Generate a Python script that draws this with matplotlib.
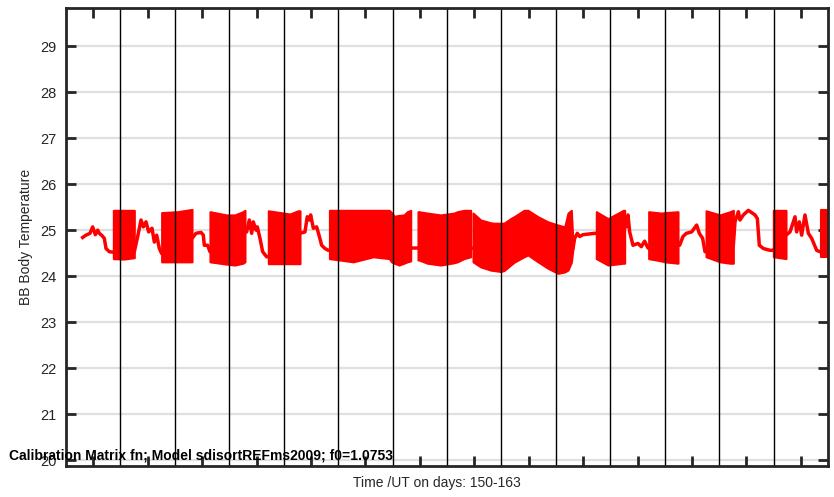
import numpy as np
import matplotlib
matplotlib.use('Agg')
import matplotlib.pyplot as plt

plt.rcParams['font.family'] = ['Liberation Sans', 'DejaVu Sans']

# quiet stretches of the trace (day, temperature)
trace_day = [150.306, 150.367, 150.441, 150.490, 150.539, 150.582, 150.612, 150.661, 150.704, 150.735, 150.796, 150.870,
             151.255, 151.317, 151.378, 151.421, 151.470, 151.519, 151.580, 151.623, 151.666, 151.715, 151.757,
             152.315, 152.388, 152.480, 152.523, 152.541, 152.603, 152.645,
             153.288, 153.319, 153.368, 153.411, 153.441, 153.490, 153.515, 153.564, 153.613, 153.686, 153.717,
             154.299, 154.390, 154.433, 154.470, 154.495, 154.544, 154.605, 154.648, 154.697, 154.758, 154.819, 154.840,
             156.333, 156.350, 156.455, 156.467,
             159.284, 159.315, 159.345, 159.394, 159.437, 159.498, 159.713, 159.743,
             160.264, 160.294, 160.325, 160.356, 160.417, 160.509, 160.570, 160.631, 160.693, 160.705,
             161.244, 161.274, 161.335, 161.397, 161.495, 161.587, 161.636, 161.697, 161.740, 161.759,
             162.261, 162.291, 162.353, 162.383, 162.445, 162.536, 162.659, 162.702, 162.738, 162.812, 162.935, 162.983, 162.996,
             163.228, 163.302, 163.394, 163.424, 163.473, 163.516, 163.577, 163.639, 163.700, 163.792, 163.853, 163.865]
trace_temp = [24.84, 24.89, 24.93, 25.07, 24.90, 25.00, 24.93, 24.88, 24.82, 24.60, 24.53, 24.52,
              24.53, 24.86, 25.22, 25.07, 25.18, 24.96, 25.04, 24.74, 24.89, 24.60, 24.49,
              24.82, 24.93, 24.95, 24.89, 24.67, 24.67, 24.53,
              24.96, 24.96, 25.22, 24.93, 25.18, 25.00, 25.07, 24.82, 24.53, 24.42, 24.42,
              24.93, 24.96, 25.29, 25.22, 25.33, 25.04, 25.07, 24.89, 24.67, 24.60, 24.56, 24.56,
              24.61, 24.61, 24.61, 24.61,
              24.60, 24.60, 24.82, 24.93, 24.86, 24.90, 24.93, 24.93,
              25.07, 25.07, 25.33, 24.96, 24.67, 24.71, 24.64, 24.76, 24.61, 24.61,
              24.67, 24.67, 24.86, 24.93, 24.96, 25.11, 24.93, 24.82, 24.53, 24.53,
              24.67, 25.18, 25.40, 25.22, 25.33, 25.43, 25.33, 25.25, 24.67, 24.60, 24.56, 24.56, 24.56,
              24.89, 24.96, 25.29, 24.96, 25.18, 24.89, 25.33, 24.93, 24.82, 24.56, 24.53, 24.53]

# fast-oscillation periods: envelope (day, upper, lower)
band_days = [
    [150.870, 151.060, 151.255],
    [151.757, 152.050, 152.315],
    [152.645, 152.950, 153.100, 153.250, 153.288],
    [153.717, 154.115, 154.260, 154.299],
    [154.840, 155.278, 155.646, 155.940, 155.980, 156.030, 156.120, 156.210, 156.270, 156.333],
    [156.467, 156.486, 156.639, 156.884, 157.129, 157.190, 157.312, 157.435],
    [157.478, 157.619, 157.802, 157.864, 157.986, 158.047, 158.170, 158.231, 158.415, 158.488,
     158.672, 158.855, 159.039, 159.162, 159.223, 159.284, 159.315],
    [159.743, 159.958, 160.240, 160.264],
    [160.705, 160.937, 160.999, 161.244],
    [161.759, 162.016, 162.200, 162.261],
    [162.996, 163.110, 163.228],
    [163.865, 163.975],
]
band_top = [
    [25.43, 25.43, 25.43],
    [25.38, 25.40, 25.45],
    [25.40, 25.33, 25.33, 25.40, 25.43],
    [25.42, 25.35, 25.42, 25.42],
    [25.43, 25.43, 25.43, 25.43, 25.38, 25.30, 25.32, 25.33, 25.40, 25.43],
    [25.40, 25.40, 25.37, 25.33, 25.37, 25.40, 25.43, 25.43],
    [25.37, 25.22, 25.16, 25.15, 25.15, 25.15, 25.25, 25.29, 25.43, 25.43,
     25.29, 25.18, 25.11, 25.07, 25.37, 25.43, 24.70],
    [25.40, 25.25, 25.43, 25.43],
    [25.40, 25.37, 25.38, 25.40],
    [25.42, 25.33, 25.40, 25.43],
    [25.43, 25.43, 25.43],
    [25.43, 25.43],
]
band_bot = [
    [24.38, 24.37, 24.40],
    [24.31, 24.31, 24.31],
    [24.31, 24.26, 24.24, 24.28, 24.31],
    [24.27, 24.27, 24.27, 24.27],
    [24.38, 24.31, 24.42, 24.38, 24.31, 24.28, 24.24, 24.28, 24.31, 24.33],
    [24.35, 24.35, 24.28, 24.24, 24.29, 24.31, 24.38, 24.42],
    [24.31, 24.20, 24.13, 24.12, 24.10, 24.12, 24.24, 24.30, 24.42, 24.46,
     24.31, 24.17, 24.06, 24.09, 24.13, 24.30, 24.60],
    [24.38, 24.24, 24.28, 24.28],
    [24.38, 24.33, 24.31, 24.28],
    [24.42, 24.31, 24.28, 24.28],
    [24.42, 24.40, 24.38],
    [24.42, 24.42],
]

day_lines = np.arange(151, 164)
x_ticks = np.arange(150.5, 164, 1.0)
y_ticks = np.arange(20, 30)

fig = plt.figure(figsize=(8.34, 4.97), dpi=100)
ax = fig.add_axes([66 / 834, 1 - 466 / 497, 762 / 834, 458 / 497])

spine_col = '#262626'
for y in y_ticks:
    ax.axhline(y, color='#e0e0e0', lw=1.6, zorder=0)

for d, t, b in zip(band_days, band_top, band_bot):
    ax.fill_between(d, t, b, color='red', lw=1.5, edgecolor='red', zorder=2)
ax.plot(trace_day, trace_temp, color='red', lw=2.5, solid_joinstyle='round', zorder=2)

for d in day_lines:
    ax.axvline(d, color='black', lw=1.0, zorder=3)

ax.set_xlim(150, 164)
ax.set_ylim(19.87, 29.83)
ax.set_xticks(x_ticks)
ax.set_xticklabels([])
ax.set_yticks(y_ticks)
ax.tick_params(direction='in', length=7, width=2, color=spine_col, labelcolor=spine_col,
               labelsize=10.5, top=True, right=True, pad=7)
for s in ax.spines.values():
    s.set_linewidth(2)
    s.set_color(spine_col)
    s.set_zorder(4)

ax.set_ylabel('BB Body Temperature', fontsize=10, color=spine_col, labelpad=5)
fig.text(437 / 834, 1 - 483 / 497, 'Time /UT on days: 150-163', fontsize=10, color=spine_col,
         ha='center', va='center')
fig.text(9 / 834, 1 - 459 / 497, 'Calibration Matrix fn; Model sdisortREFms2009; f0=1.0753',
         fontsize=10, fontweight='bold', color='black', ha='left', va='baseline', zorder=10)

fig.savefig('out.png', dpi=100)
